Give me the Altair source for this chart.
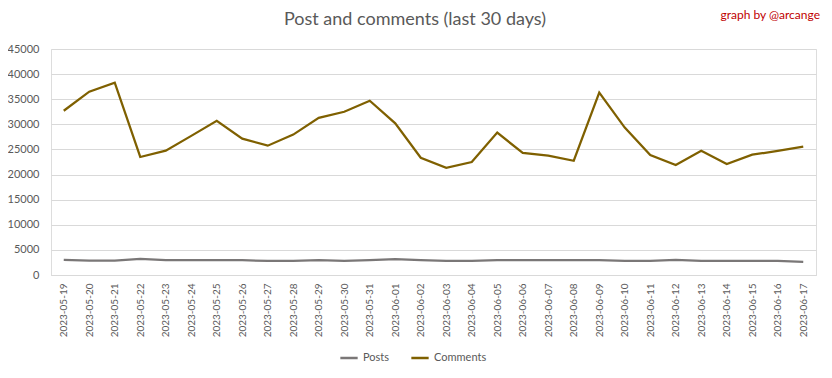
import altair as alt
import pandas as pd

dates = ["2023-05-19", "2023-05-20", "2023-05-21", "2023-05-22", "2023-05-23", "2023-05-24",
         "2023-05-25", "2023-05-26", "2023-05-27", "2023-05-28", "2023-05-29", "2023-05-30",
         "2023-05-31", "2023-06-01", "2023-06-02", "2023-06-03", "2023-06-04", "2023-06-05",
         "2023-06-06", "2023-06-07", "2023-06-08", "2023-06-09", "2023-06-10", "2023-06-11",
         "2023-06-12", "2023-06-13", "2023-06-14", "2023-06-15", "2023-06-16", "2023-06-17"]

posts = [3000, 2850, 2850, 3200, 2950, 2950, 2950, 2950, 2800, 2800,
         2950, 2800, 2950, 3150, 2950, 2800, 2800, 2950, 2950, 2950,
         2950, 2950, 2800, 2800, 3000, 2800, 2800, 2800, 2800, 2600]

comments = [32700, 36500, 38300, 23500, 24750, 27700, 30700, 27150, 25750, 27950,
            31300, 32500, 34700, 30200, 23350, 21350, 22500, 28350, 24300, 23750,
            22750, 36300, 29350, 23900, 21900, 24750, 22100, 23950, 24700, 25550]

series = ["Posts", "Comments"]
colors = ["#7a7777", "#7f6000"]
title = "Post and comments (last 30 days)"
credit = "graph by @arcange"
y_ticks = list(range(0, 45001, 5000))

rows = []
for d, p, c in zip(dates, posts, comments):
    rows.append({"date": d, "series": "Posts", "value": p})
    rows.append({"date": d, "series": "Comments", "value": c})
df = pd.DataFrame(rows)

lines = alt.Chart(df).mark_line(strokeWidth=2.25).encode(
    x=alt.X("date:O", sort=dates, title=None,
            scale=alt.Scale(paddingOuter=0.5, paddingInner=0),
            axis=alt.Axis(labelAngle=-90, labelFont="Lato", labelFontSize=10,
                          labelColor="#595959", ticks=False, domainColor="#d9d9d9",
                          domainWidth=1, labelPadding=8, grid=False)),
    y=alt.Y("value:Q", title=None,
            scale=alt.Scale(domain=[0, 45000], nice=False),
            axis=alt.Axis(values=y_ticks, format="d", labelFont="Lato", labelFontSize=11,
                          labelColor="#595959", ticks=False, domain=False,
                          gridColor="#d9d9d9", gridWidth=1, labelPadding=12)),
    color=alt.Color("series:N", sort=series,
                    scale=alt.Scale(domain=series, range=colors),
                    legend=alt.Legend(title=None, orient="none", direction="horizontal",
                                      legendX=288, legendY=299, symbolType="stroke",
                                      symbolStrokeWidth=2.5, symbolSize=300,
                                      labelFont="Lato", labelFontSize=11,
                                      labelColor="#595959", columnPadding=16)),
)

title_text = alt.Chart(pd.DataFrame({"t": [title]})).mark_text(
    align="center", baseline="middle", font="Lato", fontSize=18, color="#595959"
).encode(text="t:N", x=alt.value(364), y=alt.value(-29))

credit_text = alt.Chart(pd.DataFrame({"t": [credit]})).mark_text(
    align="right", baseline="middle", font="Lato", fontSize=12, color="#c00000"
).encode(text="t:N", x=alt.value(769), y=alt.value(-34))

chart = alt.layer(lines, title_text, credit_text).properties(
    width=765, height=226,
    autosize=alt.AutoSizeParams(type="none"),
    padding={"left": 43, "top": 41, "right": 8, "bottom": 95},
).configure_view(stroke=None).configure(background="white")

chart.save("out.html", embed_options={"renderer": "svg", "actions": False})
